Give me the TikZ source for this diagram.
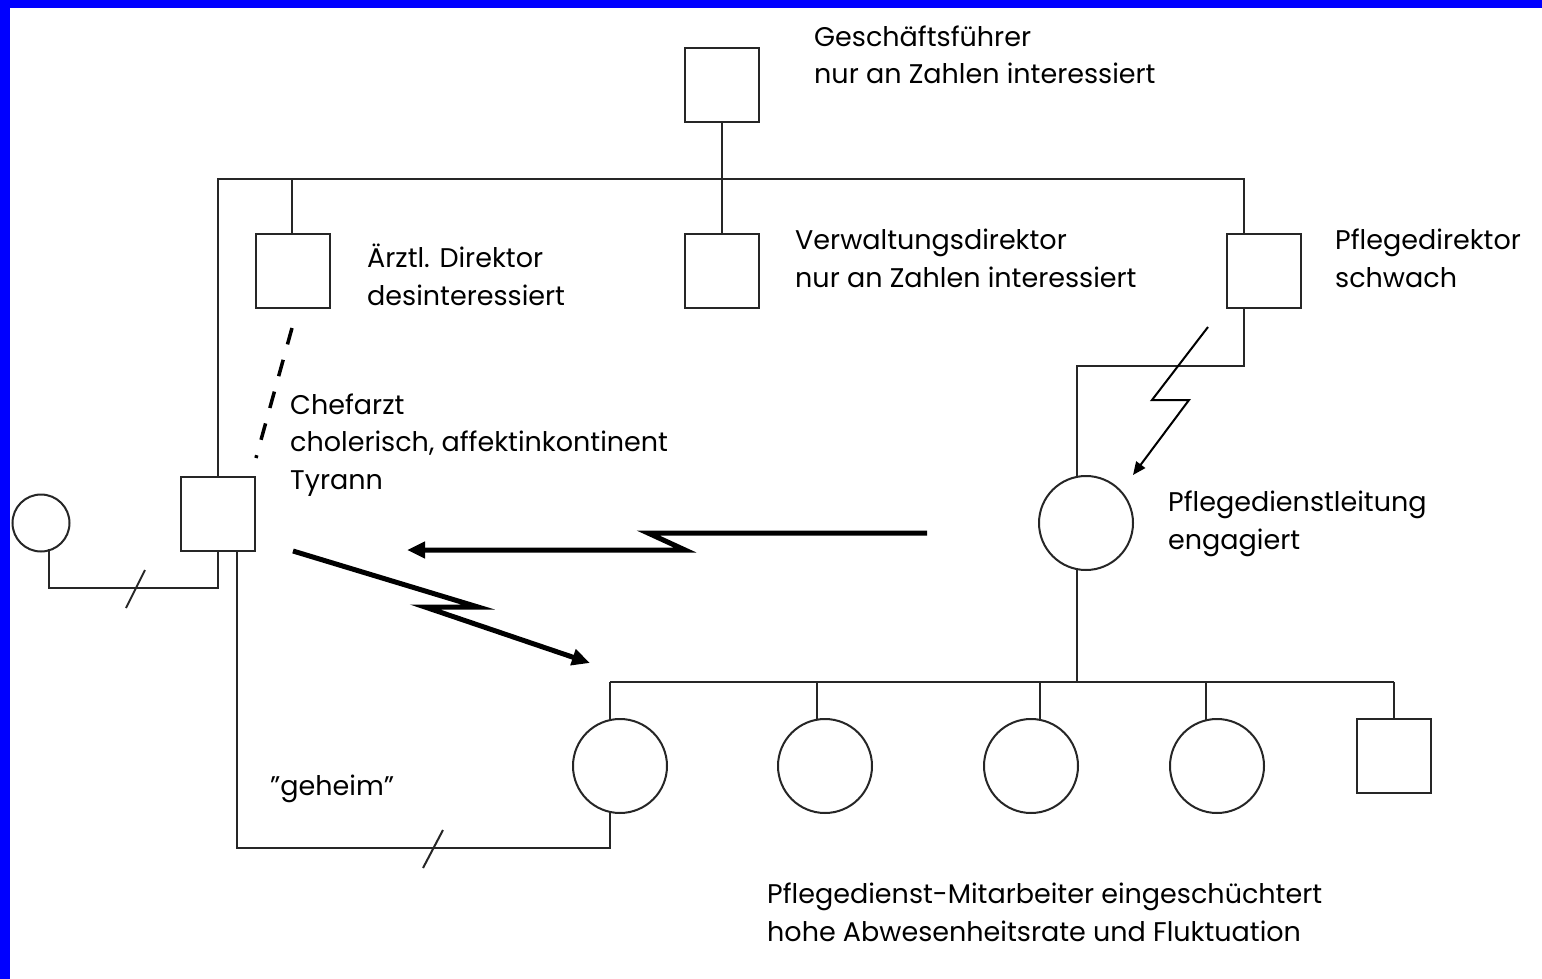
\documentclass[tikz,border=0pt]{standalone}
\usepackage{fontspec}
\setmainfont{Poppins}
\usetikzlibrary{arrows.meta}
\tikzset{
  rel/.style={line width=2pt, draw=black!85},
  male/.style={rel, rectangle, minimum width=74pt, minimum height=74pt, inner sep=0pt, fill=white},
  female/.style={rel, circle, minimum size=94pt, inner sep=0pt, fill=white},
  smallfemale/.style={rel, circle, minimum size=57pt, inner sep=0pt, fill=white},
  lbl/.style={anchor=base west, inner sep=0pt, align=left, font=\fontsize{27}{37.5}\selectfont},
  bolt/.style={line width=5pt, line join=miter, -{Triangle[length=18pt,width=16pt]}},
  thinbolt/.style={line width=2pt, line join=miter, -{Triangle[length=13pt,width=11pt]}},
  dashedrel/.style={line width=3.5pt, dash pattern=on 17pt off 16pt},
}
\begin{document}
\begin{tikzpicture}[x=1pt,y=-1pt]
\useasboundingbox (0,0) rectangle (1542,979);
\fill[blue] (0,0) rectangle (1542,979);
\fill[white] (10,8) rectangle (1542,979);

% nodes
\node[male] (gf) at (722,85) {};
\node[male] (vd) at (722,271) {};
\node[male] (ad) at (293,271) {};
\node[male] (pd) at (1264,271) {};
\node[male] (cf) at (218,514) {};
\node[smallfemale] (ex) at (41,523) {};
\node[female] (pdl) at (1086,523) {};
\node[female] (m1) at (620,766) {};
\node[female] (m2) at (825,766) {};
\node[female] (m3) at (1031,766) {};
\node[female] (m4) at (1217,766) {};
\node[male] (m5) at (1394,756) {};

% connectors
\draw[rel] (gf.south) -- (vd.north);
\draw[rel] (cf.north) |- (722,179) -| (pd.north -| 1244,0);
\draw[rel] (ad.north -| 292,0) -- (292,179);
\draw[rel] (pd.south -| 1244,0) |- (1077,366) -- (1077,478);
\draw[rel] (1077,569) -- (1077,682);
\draw[rel] (610,682) -- (1394,682);
\draw[rel] (610,682) -- (610,720);
\draw[rel] (817,720) -- (817,682);
\draw[rel] (1040,720) -- (1040,682);
\draw[rel] (1206,720) -- (1206,682);
\draw[rel] (m5.north) -- (1394,682);
\draw[rel] (cf.south) |- (49,588) -- (49,549);
\draw[rel] (237,551) |- (610,848) -- (610,812);
\draw[rel] (126,608) -- (145,570);
\draw[rel] (423,868) -- (443,830);

\coordinate (dA) at (292,328);
\coordinate (dB) at (256,458);
\draw[dashedrel] (dA) -- (dB);

% lightning arrows
\coordinate (b1s) at (927,533);
\coordinate (b1e) at (407,550);
\draw[bolt] (b1s) -- (648,533) -- (685,550) -- (b1e);
\coordinate (b2s) at (293,551);
\coordinate (b2e) at (590,663);
\draw[bolt] (b2s) -- (478,607) -- (425,607) -- (b2e);
\coordinate (b3s) at (1208,327);
\coordinate (b3e) at (1133,475);
\draw[thinbolt] (b3s) -- (1152,400) -- (1189,400) -- (b3e);

% labels (anchored at the baseline of their last line)
\node[lbl] (tgf) at (814,84) {Geschäftsführer\\nur an Zahlen interessiert};
\node[lbl] (tad) at (367,305) {Ärztl. Direktor\\desinteressiert};
\node[lbl] (tvd) at (795,287) {Verwaltungsdirektor\\nur an Zahlen interessiert};
\node[lbl] (tpd) at (1335,287) {Pflegedirektor\\schwach};
\node[lbl] (tcf) at (290,489) {Chefarzt\\cholerisch, affektinkontinent\\Tyrann};
\node[lbl] (tpdl) at (1168,549) {Pflegedienstleitung\\engagiert};
\node[lbl] (tgh) at (270,795) {\symbol{"22}geheim\symbol{"22}};
\node[lbl] (tm) at (767,941) {Pflegedienst-Mitarbeiter eingeschüchtert\\hohe Abwesenheitsrate und Fluktuation};
\end{tikzpicture}
\end{document}
